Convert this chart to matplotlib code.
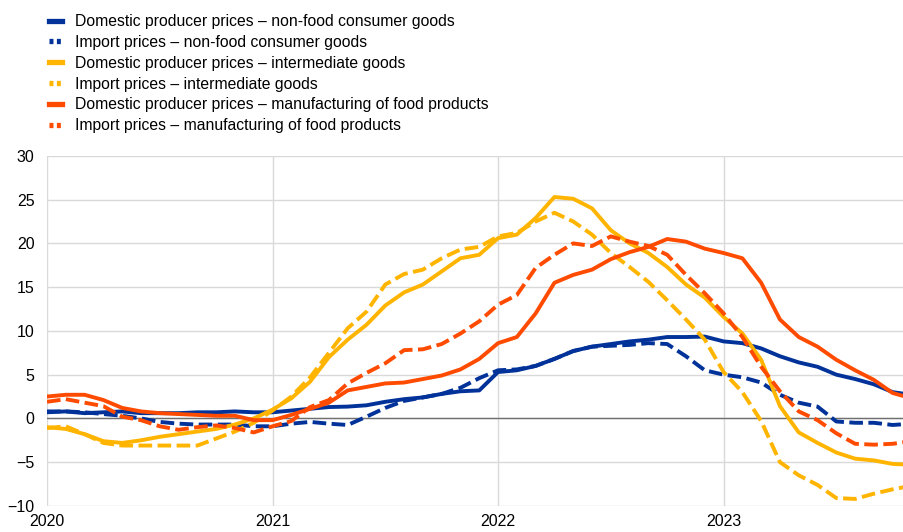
import numpy as np
import matplotlib
matplotlib.use("Agg")
import matplotlib.pyplot as plt
from matplotlib.lines import Line2D

plt.rcParams['font.family'] = ['Liberation Sans', 'DejaVu Sans']

# monthly, Jan 2020 - Nov 2023 (months since Jan 2020)
months = np.arange(47)

dom_nonfood = [0.7, 0.8, 0.6, 0.7, 0.8, 0.6, 0.6, 0.6, 0.7, 0.7, 0.8, 0.7,
               0.7, 0.9, 1.1, 1.3, 1.35, 1.5, 1.9, 2.2, 2.4, 2.8, 3.1, 3.2,
               5.3, 5.5, 6.0, 6.8, 7.7, 8.2, 8.5, 8.8, 9.0, 9.3, 9.3, 9.35,
               8.8, 8.6, 8.0, 7.1, 6.4, 5.9, 5.0, 4.5, 3.9, 3.0, 2.7]
imp_nonfood = [0.8, 0.8, 0.7, 0.5, 0.3, 0.0, -0.4, -0.6, -0.7, -0.7, -0.7, -0.9,
               -0.9, -0.6, -0.4, -0.6, -0.75, 0.2, 1.2, 2.0, 2.4, 2.8, 3.5, 4.6,
               5.5, 5.6, 6.0, 6.8, 7.7, 8.2, 8.3, 8.4, 8.6, 8.5, 7.1, 5.5,
               5.0, 4.7, 4.1, 2.7, 1.8, 1.35, -0.35, -0.5, -0.5, -0.75, -0.6]
dom_interm = [-1.0, -1.2, -1.8, -2.6, -2.8, -2.5, -2.1, -1.8, -1.5, -1.2, -0.7, 0.0,
              1.0, 2.3, 4.2, 7.0, 9.0, 10.7, 12.9, 14.4, 15.3, 16.8, 18.3, 18.7,
              20.6, 21.0, 22.9, 25.3, 25.1, 24.0, 21.5, 20.0, 18.9, 17.3, 15.3, 13.8,
              11.6, 9.7, 6.7, 1.4, -1.6, -2.8, -3.9, -4.6, -4.8, -5.2, -5.3]
imp_interm = [-1.1, -0.9, -1.8, -2.8, -3.1, -3.1, -3.1, -3.1, -3.1, -2.3, -1.5, -0.5,
              0.9, 2.5, 4.7, 7.5, 10.3, 12.2, 15.3, 16.5, 17.0, 18.3, 19.3, 19.6,
              20.8, 21.2, 22.5, 23.5, 22.5, 21.0, 18.9, 17.3, 15.6, 13.5, 11.3, 9.0,
              5.3, 3.0, -0.3, -5.0, -6.5, -7.6, -9.1, -9.2, -8.6, -8.1, -7.7]
dom_food = [2.5, 2.7, 2.7, 2.1, 1.2, 0.8, 0.6, 0.5, 0.4, 0.3, 0.3, -0.2,
            -0.2, 0.4, 1.1, 1.8, 3.2, 3.6, 4.0, 4.1, 4.5, 4.9, 5.6, 6.8,
            8.6, 9.3, 12.0, 15.5, 16.4, 17.0, 18.2, 19.0, 19.6, 20.5, 20.2, 19.4,
            18.9, 18.3, 15.5, 11.3, 9.3, 8.2, 6.7, 5.5, 4.4, 2.9, 2.3]
imp_food = [1.9, 2.2, 1.8, 1.4, 0.2, -0.2, -0.9, -1.3, -1.0, -0.8, -1.1, -1.6,
            -0.9, -0.3, 1.3, 2.1, 4.0, 5.2, 6.3, 7.8, 7.9, 8.5, 9.7, 11.1,
            13.0, 14.1, 17.2, 18.7, 20.0, 19.7, 20.8, 20.2, 19.7, 18.7, 16.4, 14.3,
            12.0, 9.3, 5.9, 3.1, 0.8, -0.2, -1.7, -2.9, -3.0, -2.9, -2.6]

labels = ["Domestic producer prices \u2013 non-food consumer goods",
          "Import prices \u2013 non-food consumer goods",
          "Domestic producer prices \u2013 intermediate goods",
          "Import prices \u2013 intermediate goods",
          "Domestic producer prices \u2013 manufacturing of food products",
          "Import prices \u2013 manufacturing of food products"]

year_ticks = [0, 12, 24, 36]
year_labels = ["2020", "2021", "2022", "2023"]

blue = '#003299'
yellow = '#FFB400'
red = '#FF4B00'
dash = (0, (3.5, 1.4))

fig = plt.figure(figsize=(9.04, 5.32), dpi=100)
ax = fig.add_axes([0.052, 0.049, 0.948, 0.658])

series = [(dom_nonfood, blue, '-'), (imp_nonfood, blue, dash),
          (dom_interm, yellow, '-'), (imp_interm, yellow, dash),
          (dom_food, red, '-'), (imp_food, red, dash)]

ax.axhline(0, color='#6f6f6f', lw=1.0, zorder=2)
for vals, c, ls in series:
    ax.plot(months, vals, color=c, ls=ls, lw=2.8, zorder=3)

ax.set_xlim(0, 45.6)
ax.set_ylim(-10, 30)
ax.set_yticks(np.arange(-10, 31, 5))
ax.set_xticks(year_ticks)
ax.set_xticklabels(year_labels)
ax.grid(True, color='#d9d9d9', lw=1)
ax.set_axisbelow(True)
for s in ax.spines.values():
    s.set_visible(False)
ax.tick_params(length=0, labelsize=11.5, colors='#000000')
ax.tick_params(axis='y', pad=9)
ax.tick_params(axis='x', pad=6)

handles = []
for vals, c, ls in series:
    if ls == '-':
        handles.append(Line2D([], [], color=c, lw=3.8))
    else:
        handles.append(Line2D([], [], color=c, lw=3.8, ls=(0, (0.75, 0.65))))
fig.legend(handles, labels, loc='upper left', bbox_to_anchor=(0.039, 1.0),
           frameon=False, fontsize=11.3, handlelength=0.82, handletextpad=0.8,
           labelspacing=0.37, borderaxespad=0.5)

fig.savefig('out.png', dpi=100)
